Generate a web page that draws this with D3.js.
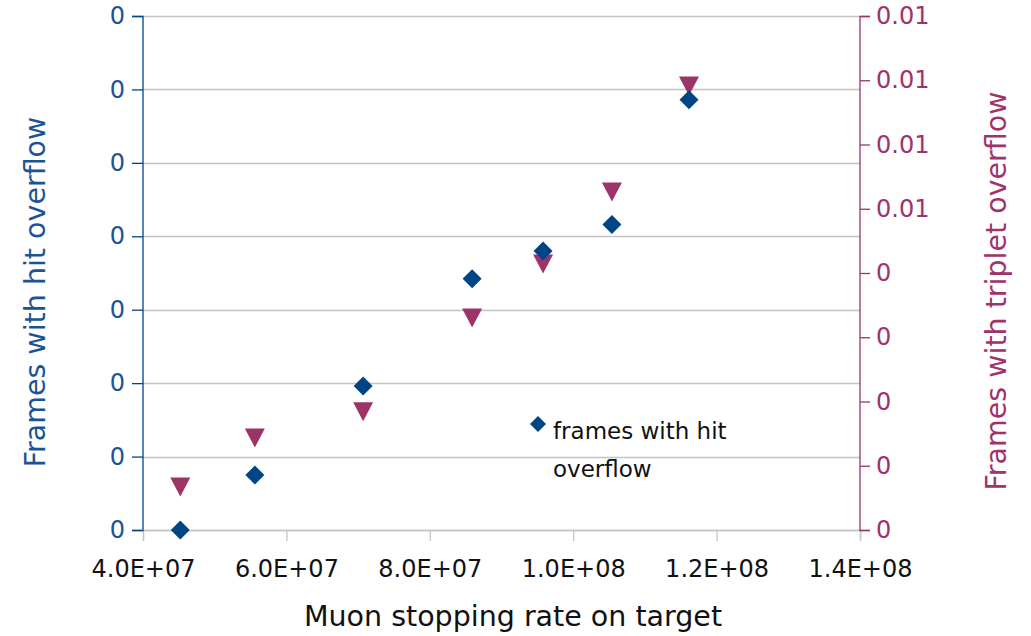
<!DOCTYPE html>
<html>
<head>
<meta charset="utf-8">
<script src="https://cdn.jsdelivr.net/npm/d3@7"></script>
<style>
  html, body { margin: 0; padding: 0; background: #fff; }
  svg { display: block; font-family: "DejaVu Sans", "Open Sans", sans-serif; }
</style>
</head>
<body>
<svg id="chart" width="1031" height="636"></svg>
<script>
// Muon stopping rate on target (x) for each measurement
const stoppingRate = [4.52e7, 5.56e7, 7.07e7, 8.59e7, 9.58e7, 1.054e8, 1.1615e8];
// Fraction of frames with hit overflow (left axis)
const hitOverflow = [0.0, 0.0375, 0.098, 0.171, 0.190, 0.208, 0.293];
// Fraction of frames with triplet overflow (right axis)
const tripletOverflow = [0.00067, 0.00143, 0.00184, 0.0033, 0.00414, 0.00526, 0.00691];

const xTicks = [4e7, 6e7, 8e7, 1e8, 1.2e8, 1.4e8];
const leftTicks = [0, 0.05, 0.10, 0.15, 0.20, 0.25, 0.30, 0.35];
const rightTicks = [0, 0.001, 0.002, 0.003, 0.004, 0.005, 0.006, 0.007, 0.008];

const blue = "#004586";
const blueText = "#1b5494";
const magenta = "#9c3468";
const magentaText = "#a0336a";
const grid = "#c4c4c4";
const tickFont = "24px";
const titleFont = "28.5px";

const svg = d3.select("#chart");
const plot = { left: 143, right: 860, top: 16, bottom: 530 };

const x = d3.scaleLinear().domain([4e7, 1.4e8]).range([plot.left, plot.right]);
const yL = d3.scaleLinear().domain([0, 0.35]).range([plot.bottom, plot.top]);
const yR = d3.scaleLinear().domain([0, 0.008]).range([plot.bottom, plot.top]);

// horizontal gridlines at the left-axis ticks
svg.append("g")
  .selectAll("line")
  .data(leftTicks)
  .join("line")
  .attr("x1", plot.left).attr("x2", plot.right)
  .attr("y1", d => Math.round(yL(d)) + 0.5).attr("y2", d => Math.round(yL(d)) + 0.5)
  .attr("stroke", grid).attr("stroke-width", 1.3);

// bottom axis, scientific labels like 4.0E+07
const sci = d => {
  const [m, e] = d3.format(".1e")(d).split("e");
  const exp = Math.abs(+e);
  return `${m}E${+e < 0 ? "-" : "+"}${exp < 10 ? "0" + exp : exp}`;
};
const xAxis = svg.append("g")
  .attr("transform", `translate(0,${plot.bottom})`)
  .call(d3.axisBottom(x).tickValues(xTicks).tickSize(11).tickPadding(19).tickFormat(sci));
xAxis.select(".domain").attr("stroke", grid).attr("stroke-width", 1.3);
xAxis.selectAll(".tick line").attr("stroke", grid).attr("stroke-width", 1.3);
xAxis.selectAll("text").attr("fill", "#111").style("font-size", tickFont).style("font-family", "DejaVu Sans");

// left axis
const lAxis = svg.append("g")
  .attr("transform", `translate(${plot.left},0)`)
  .call(d3.axisLeft(yL).tickValues(leftTicks).tickSize(11).tickPadding(7).tickFormat(d3.format(".0f")));
lAxis.select(".domain").attr("stroke", blue).attr("stroke-width", 1.3).attr("d", `M-11,${plot.top + 0.5}H0V${plot.bottom + 0.5}H-11`);
lAxis.selectAll(".tick line").attr("stroke", blue).attr("stroke-width", 1.3);
lAxis.selectAll("text").attr("fill", blueText).style("font-size", tickFont).style("font-family", "DejaVu Sans");

// right axis
const rAxis = svg.append("g")
  .attr("transform", `translate(${plot.right},0)`)
  .call(d3.axisRight(yR).tickValues(rightTicks).tickSize(10).tickPadding(6).tickFormat(d => d3.format(".2f")(d).replace(/^0\.00$/, "0")));
rAxis.select(".domain").attr("stroke", magenta).attr("stroke-width", 1.3).attr("d", `M10,${plot.top + 0.5}H0V${plot.bottom + 0.5}H10`);
rAxis.selectAll(".tick line").attr("stroke", magenta).attr("stroke-width", 1.3);
rAxis.selectAll("text").attr("fill", magentaText).style("font-size", tickFont).style("font-family", "DejaVu Sans");

// triplet overflow: downward triangles
const triangle = (cx, cy, w, h) => `M${cx - w / 2},${cy - h / 2}H${cx + w / 2}L${cx},${cy + h / 2}Z`;
svg.append("g")
  .selectAll("path")
  .data(stoppingRate.map((r, i) => [r, tripletOverflow[i]]))
  .join("path")
  .attr("d", d => triangle(x(d[0]), yR(d[1]), 20, 19))
  .attr("fill", magenta);

// hit overflow: diamonds
const diamond = (cx, cy, r) => `M${cx},${cy - r}L${cx + r},${cy}L${cx},${cy + r}L${cx - r},${cy}Z`;
svg.append("g")
  .selectAll("path")
  .data(stoppingRate.map((r, i) => [r, hitOverflow[i]]))
  .join("path")
  .attr("d", d => diamond(x(d[0]), yL(d[1]), 9.5))
  .attr("fill", blue);

// legend
const legend = svg.append("g").style("font-size", "23px").attr("fill", "#111");
legend.append("path").attr("d", diamond(538, 424, 8)).attr("fill", blue);
legend.append("text").attr("x", 553).attr("y", 439).text("frames with hit");
legend.append("text").attr("x", 553).attr("y", 477).text("overflow");

// axis titles
svg.append("text").attr("x", 513).attr("y", 626)
  .attr("text-anchor", "middle").attr("fill", "#111").style("font-size", titleFont)
  .text("Muon stopping rate on target");
svg.append("text").attr("transform", "translate(45,292) rotate(-90)")
  .attr("text-anchor", "middle").attr("fill", blueText).style("font-size", titleFont)
  .text("Frames with hit overflow");
svg.append("text").attr("transform", "translate(1006,291) rotate(-90)")
  .attr("text-anchor", "middle").attr("fill", magentaText).style("font-size", titleFont)
  .text("Frames with triplet overflow");
</script>
</body>
</html>
